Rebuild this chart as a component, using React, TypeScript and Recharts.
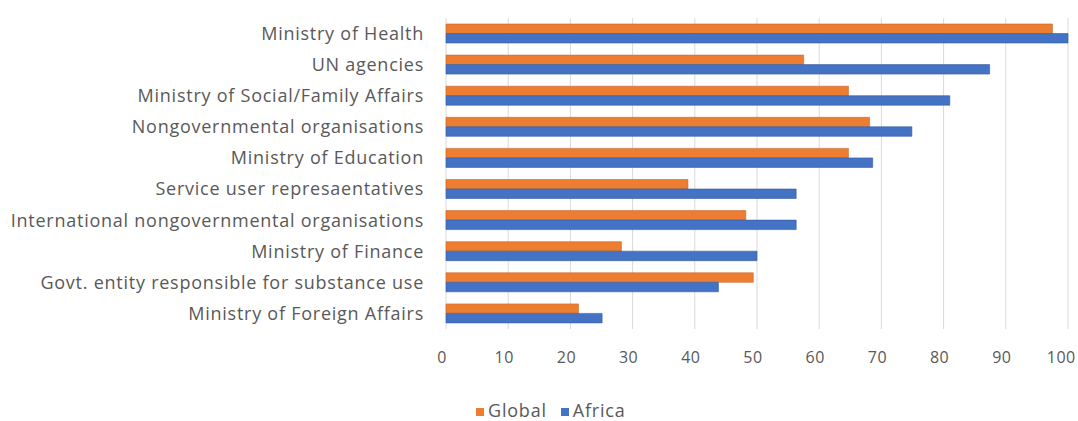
import { BarChart, Bar, XAxis, YAxis, CartesianGrid } from 'recharts';

const categories = [
  'Ministry of Health',
  'UN agencies',
  'Ministry of Social/Family Affairs',
  'Nongovernmental organisations',
  'Ministry of Education',
  'Service user represaentatives',
  'International nongovernmental organisations',
  'Ministry of Finance',
  'Govt. entity responsible for substance use',
  'Ministry of Foreign Affairs',
];
const globalValues = [97.5, 57.5, 64.7, 68.1, 64.7, 38.9, 48.2, 28.2, 49.4, 21.3];
const africaValues = [100, 87.4, 81, 74.9, 68.6, 56.3, 56.3, 50, 43.8, 25.1];
const xTicks = [0, 10, 20, 30, 40, 50, 60, 70, 80, 90, 100];

const data = categories.map((name, i) => ({
  name,
  Global: globalValues[i],
  Africa: africaValues[i],
}));

const font = '"Open Sans", sans-serif';
const textColor = '#595959';

function LegendBox() {
  const items = [
    { label: 'Global', color: '#ED7D31' },
    { label: 'Africa', color: '#4472C4' },
  ];
  return (
    <div
      style={{
        position: 'absolute',
        left: 476,
        top: 398,
        display: 'flex',
        gap: 14,
        fontFamily: font,
        fontSize: 18,
        letterSpacing: 0.8,
        color: textColor,
        lineHeight: '24px',
      }}
    >
      {items.map((it) => (
        <div key={it.label} style={{ display: 'flex', alignItems: 'center', gap: 4 }}>
          <span style={{ width: 8, height: 8, background: it.color, display: 'inline-block', marginTop: 3 }} />
          {it.label}
        </div>
      ))}
    </div>
  );
}

export default function App() {
  return (
    <div style={{ position: 'absolute', left: 0, top: 0, width: 1078, height: 421, background: '#fff' }}>
      <BarChart
        width={1078}
        height={421}
        data={data}
        layout="vertical"
        barSize={9.5}
        barGap={0}
        margin={{ top: 18, right: 10, left: 0, bottom: 62 }}
      >
        <CartesianGrid horizontal={false} stroke="#d9d9d9" />
        <XAxis
          type="number"
          domain={[0, 100]}
          ticks={xTicks}
          axisLine={false}
          tickLine={false}
          tickMargin={17}
          height={30}
          tick={{ fill: textColor, fontSize: 16, fontFamily: font, letterSpacing: 0.5, dx: -4 }}
        />
        <YAxis
          type="category"
          dataKey="name"
          width={446}
          axisLine={false}
          tickLine={false}
          tickMargin={16}
          interval={0}
          tick={{ fill: textColor, fontSize: 18, fontFamily: font, letterSpacing: 0.75 }}
        />
        <Bar dataKey="Global" fill="#ED7D31" stroke="#c8662a" strokeWidth={0.6} isAnimationActive={false} />
        <Bar dataKey="Africa" fill="#4472C4" stroke="#345d9e" strokeWidth={0.6} isAnimationActive={false} />
      </BarChart>
      <LegendBox />
    </div>
  );
}
